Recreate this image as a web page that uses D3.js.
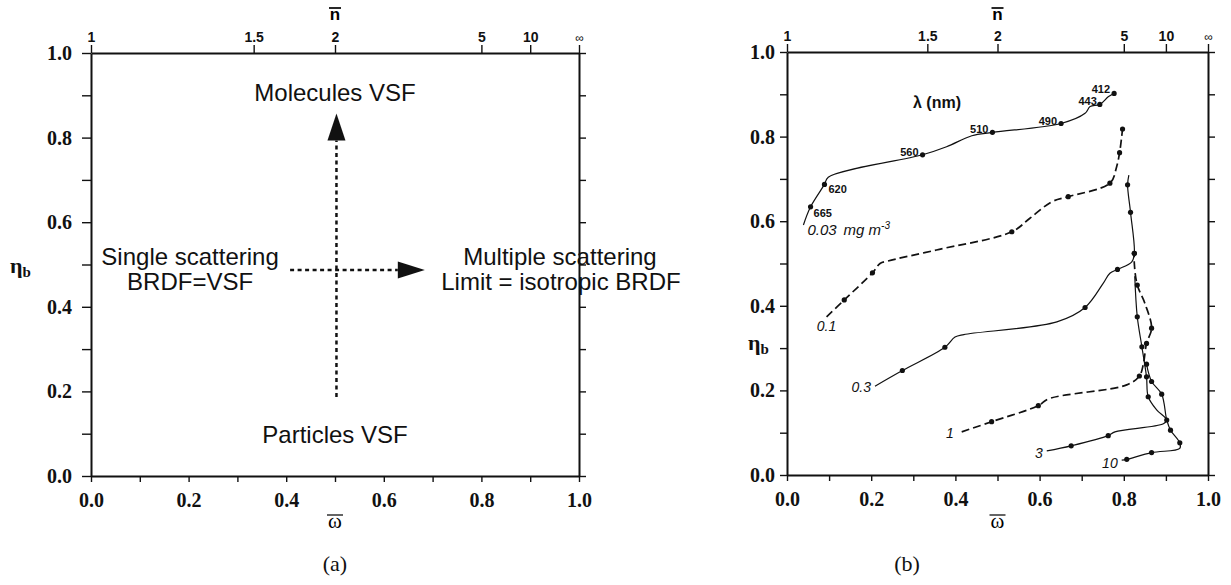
<!DOCTYPE html>
<html>
<head>
<meta charset="utf-8">
<script src="https://cdn.jsdelivr.net/npm/d3@7"></script>
<style>
  body { margin: 0; background: #fff; }
  svg { display: block; }
  .axis path, .axis line { stroke: #111; }
  .axis path { stroke-width: 2; }
  .axis line { stroke-width: 1.4; }
  .num text { font-family: "Liberation Serif", serif; font-weight: bold; font-size: 20px; fill: #111; }
  .top text { font-family: "Liberation Sans", Arial, sans-serif; font-weight: bold; font-size: 14px; fill: #111; }
  .note { font-family: "Liberation Sans", Arial, sans-serif; font-size: 24px; fill: #111; }
</style>
</head>
<body>
<div id="chart"></div>
<script>
// axis ticks
const omegaTicks = [0, 0.1, 0.2, 0.3, 0.4, 0.5, 0.6, 0.7, 0.8, 0.9, 1.0];
const omegaLabels = ["0.0", "", "0.2", "", "0.4", "", "0.6", "", "0.8", "", "1.0"];
const etaTicks = [0, 0.1, 0.2, 0.3, 0.4, 0.5, 0.6, 0.7, 0.8, 0.9, 1.0];
const etaLabels = ["0.0", "", "0.2", "", "0.4", "", "0.6", "", "0.8", "", "1.0"];
const nTicks = [1, 1.5, 2, 5, 10, Infinity];
const nLabels = ["1", "1.5", "2", "5", "10", "∞"];

// panel (b): [omega, eta_b, wavelength of the marked point or null]
const chlLevels = ["0.03", "0.1", "0.3", "1", "3", "10"];
const curve003 = [
  [0.039, 0.591, null], [0.056, 0.634, 665], [0.089, 0.687, 620], [0.098, 0.704, null],
  [0.322, 0.757, 560], [0.379, 0.776, null], [0.439, 0.802, null], [0.488, 0.810, 510],
  [0.651, 0.831, 490], [0.708, 0.855, null], [0.720, 0.871, null], [0.743, 0.876, 443],
  [0.763, 0.894, null], [0.777, 0.902, 412]
];
const curve01 = [
  [0.094, 0.374, null], [0.136, 0.414, 665], [0.203, 0.478, 620], [0.221, 0.500, null],
  [0.240, 0.506, null], [0.355, 0.532, null], [0.534, 0.575, 560], [0.577, 0.607, null],
  [0.629, 0.646, null], [0.668, 0.658, 510], [0.767, 0.690, 490], [0.783, 0.729, null],
  [0.790, 0.762, 443], [0.795, 0.800, null], [0.797, 0.818, 412]
];
const curve03 = [
  [0.209, 0.210, null], [0.274, 0.247, 665], [0.375, 0.302, 620], [0.399, 0.326, null],
  [0.420, 0.332, null], [0.641, 0.362, null], [0.708, 0.396, 560], [0.751, 0.453, null],
  [0.767, 0.477, null], [0.785, 0.486, 510], [0.819, 0.504, null], [0.825, 0.524, 490],
  [0.816, 0.621, 443], [0.809, 0.686, 412], [0.812, 0.709, null]
];
const curve1 = [
  [0.415, 0.102, null], [0.486, 0.126, 665], [0.597, 0.164, 620], [0.621, 0.180, null],
  [0.807, 0.213, null], [0.837, 0.234, 560], [0.846, 0.260, null], [0.854, 0.311, 510],
  [0.866, 0.347, 490], [0.850, 0.406, null], [0.832, 0.449, 443], [0.825, 0.500, null],
  [0.825, 0.524, 412]
];
const curve3 = [
  [0.617, 0.057, null], [0.675, 0.069, 665], [0.763, 0.093, 620], [0.779, 0.102, null],
  [0.894, 0.121, null], [0.902, 0.130, 560], [0.878, 0.154, null], [0.858, 0.185, 510],
  [0.854, 0.232, 490], [0.843, 0.303, 443], [0.832, 0.374, 412], [0.826, 0.470, null]
];
const curve10 = [
  [0.795, 0.035, null], [0.807, 0.037, 665], [0.866, 0.053, 620], [0.933, 0.063, null],
  [0.933, 0.076, 560], [0.911, 0.106, 510], [0.902, 0.130, null], [0.890, 0.191, 490],
  [0.866, 0.221, 443], [0.854, 0.262, 412]
];
const curves = [curve003, curve01, curve03, curve1, curve3, curve10];
const dashedLevels = ["0.1", "1"];

const svg = d3.select("#chart").append("svg")
  .attr("width", 1231)
  .attr("height", 585);

const boxA = { left: 91, top: 53, w: 488, h: 423 };
const boxB = { left: 787, top: 52, w: 421, h: 423 };

function drawFrame(box, leftTick, leftPad) {
  const x = d3.scaleLinear().domain([0, 1]).range([box.left, box.left + box.w]);
  const y = d3.scaleLinear().domain([0, 1]).range([box.top + box.h, box.top]);

  svg.append("g").attr("class", "axis num")
    .attr("transform", `translate(0,${y(0)})`)
    .call(d3.axisBottom(x).tickValues(omegaTicks).tickFormat((d, i) => omegaLabels[i])
      .tickSize(6).tickSizeOuter(0).tickPadding(11))
    .attr("font-family", null).attr("font-size", null);

  svg.append("g").attr("class", "axis num")
    .attr("transform", `translate(${x(0)},0)`)
    .call(d3.axisLeft(y).tickValues(etaTicks).tickFormat((d, i) => etaLabels[i])
      .tickSize(leftTick).tickSizeOuter(0).tickPadding(leftPad))
    .attr("font-family", null).attr("font-size", null);

  svg.append("g").attr("class", "axis")
    .attr("transform", `translate(${x(1)},0)`)
    .call(d3.axisRight(y).tickValues(etaTicks).tickFormat("").tickSize(7).tickSizeOuter(0));

  const top = svg.append("g").attr("class", "axis top")
    .attr("transform", `translate(0,${y(1)})`)
    .call(d3.axisTop(x).tickValues(nTicks.map(n => 1 - 1 / n)).tickFormat((d, i) => nLabels[i])
      .tickSize(8).tickSizeOuter(0).tickPadding(3))
    .attr("font-family", null).attr("font-size", null);
  top.selectAll(".tick text").filter((d, i) => i === nTicks.length - 1)
    .style("font-size", "12px").style("font-weight", "normal");

  // n-bar above the top axis
  const cx = x(0.5);
  svg.append("text").attr("x", cx).attr("y", 20).attr("text-anchor", "middle")
    .style("font-family", "Liberation Sans, Arial, sans-serif").style("font-weight", "bold")
    .style("font-size", "17px").text("n");
  svg.append("line").attr("x1", cx - 6).attr("x2", cx + 6).attr("y1", 8).attr("y2", 8)
    .attr("stroke", "#111").attr("stroke-width", 1.8);

  // omega-bar below the bottom axis
  svg.append("text").attr("x", cx).attr("y", 528).attr("text-anchor", "middle")
    .style("font-family", "Liberation Serif, serif").style("font-size", "21px").text("ω");
  svg.append("line").attr("x1", cx - 8).attr("x2", cx + 8).attr("y1", 515).attr("y2", 515)
    .attr("stroke", "#111").attr("stroke-width", 1.3);

  return { x, y };
}

function etaLabel(xp, yp) {
  const t = svg.append("text").attr("x", xp).attr("y", yp)
    .style("font-family", "Liberation Serif, serif").style("font-weight", "bold").style("fill", "#111");
  t.append("tspan").style("font-size", "22px").text("η");
  t.append("tspan").attr("dy", 4).style("font-size", "15px").text("b");
}

// ---------- panel (a)
const a = drawFrame(boxA, 9, 10);
etaLabel(10, 273);

const noteA = [
  { t: "Molecules VSF", x: 0.5, y: 101 },
  { t: "Single scattering", x: 0.203, y: 265 },
  { t: "BRDF=VSF", x: 0.203, y: 290 },
  { t: "Multiple scattering", x: 0.961, y: 265 },
  { t: "Limit = isotropic BRDF", x: 0.963, y: 290 },
  { t: "Particles VSF", x: 0.5, y: 443 }
];

// dotted arrows
const ax = a.x(0.503);
svg.append("line").attr("x1", ax).attr("x2", ax).attr("y1", a.y(0.187)).attr("y2", a.y(0.857) + 27)
  .attr("stroke", "#111").attr("stroke-width", 2.5).attr("stroke-dasharray", "4,3.5");
svg.append("path")
  .attr("d", `M${ax},${a.y(0.857)} L${ax - 9},${a.y(0.857) + 27} L${ax + 9},${a.y(0.857) + 27} Z`)
  .attr("fill", "#111");
const ay = a.y(0.487);
svg.append("line").attr("x1", a.x(0.408)).attr("x2", a.x(0.684) - 27).attr("y1", ay).attr("y2", ay)
  .attr("stroke", "#111").attr("stroke-width", 2.5).attr("stroke-dasharray", "4,3.5");
svg.append("path")
  .attr("d", `M${a.x(0.684)},${ay} L${a.x(0.684) - 27},${ay - 8.5} L${a.x(0.684) - 27},${ay + 8.5} Z`)
  .attr("fill", "#111");

svg.selectAll(".noteA").data(noteA).enter().append("text")
  .attr("class", "note")
  .attr("x", d => a.x(d.x))
  .attr("y", d => d.y)
  .attr("text-anchor", "middle")
  .text(d => d.t);

// ---------- panel (b)
const b = drawFrame(boxB, 7, 5);
etaLabel(748, 350);

const line = d3.line().x(d => b.x(d[0])).y(d => b.y(d[1])).curve(d3.curveCatmullRom.alpha(0.5));

curves.forEach((c, i) => {
  const dashed = dashedLevels.includes(chlLevels[i]);
  svg.append("path")
    .attr("d", line(c))
    .attr("fill", "none")
    .attr("stroke", "#111")
    .attr("stroke-width", dashed ? 1.7 : 1.2)
    .attr("stroke-dasharray", dashed ? "8,4" : null);
  svg.append("g").selectAll("circle")
    .data(c.filter(p => p[2] !== null))
    .enter().append("circle")
    .attr("cx", p => b.x(p[0]))
    .attr("cy", p => b.y(p[1]))
    .attr("r", 2.6)
    .attr("fill", "#111");
});

// chlorophyll labels next to the start of each curve
const chlOffsets = [
  { dx: 4, dy: 10, anchor: "start" },
  { dx: 0, dy: 14, anchor: "middle" },
  { dx: -4, dy: 6, anchor: "end" },
  { dx: -8, dy: 6, anchor: "end" },
  { dx: -4, dy: 7, anchor: "end" },
  { dx: -4, dy: 8, anchor: "end" }
];
curves.forEach((c, i) => {
  const o = chlOffsets[i];
  const t = svg.append("text")
    .attr("x", b.x(c[0][0]) + o.dx)
    .attr("y", b.y(c[0][1]) + o.dy)
    .attr("text-anchor", o.anchor)
    .style("font-family", "Liberation Sans, Arial, sans-serif")
    .style("font-style", "italic")
    .style("font-size", i === 0 ? "15px" : "14px")
    .style("fill", "#111");
  t.append("tspan").text(chlLevels[i]);
  if (i === 0) {
    t.append("tspan").attr("dx", 7).text("mg m");
    t.append("tspan").attr("dy", -6).style("font-size", "10px").text("-3");
  }
});

// wavelength labels on the lowest-chlorophyll curve
const lambdaOffsets = {
  665: { dx: 3, dy: 10, anchor: "start" },
  620: { dx: 4, dy: 9, anchor: "start" },
  560: { dx: -4, dy: 1, anchor: "end" },
  510: { dx: -4, dy: 1, anchor: "end" },
  490: { dx: -4, dy: 2, anchor: "end" },
  443: { dx: -3, dy: 1, anchor: "end" },
  412: { dx: -4, dy: 0, anchor: "end" }
};
svg.append("g").selectAll("text")
  .data(curve003.filter(p => p[2] !== null))
  .enter().append("text")
  .attr("x", p => b.x(p[0]) + lambdaOffsets[p[2]].dx)
  .attr("y", p => b.y(p[1]) + lambdaOffsets[p[2]].dy)
  .attr("text-anchor", p => lambdaOffsets[p[2]].anchor)
  .style("font-family", "Liberation Sans, Arial, sans-serif")
  .style("font-weight", "bold")
  .style("font-size", "11px")
  .style("fill", "#111")
  .text(p => p[2]);

svg.append("text").attr("x", 913).attr("y", 108)
  .style("font-family", "Liberation Sans, Arial, sans-serif").style("font-weight", "bold")
  .style("font-size", "16px").style("fill", "#111")
  .text("λ (nm)");

// captions
[["(a)", 335], ["(b)", 907]].forEach(([t, xp]) => {
  svg.append("text").attr("x", xp).attr("y", 571).attr("text-anchor", "middle")
    .style("font-family", "Liberation Serif, serif").style("font-size", "22px").style("fill", "#111")
    .text(t);
});
</script>
</body>
</html>
